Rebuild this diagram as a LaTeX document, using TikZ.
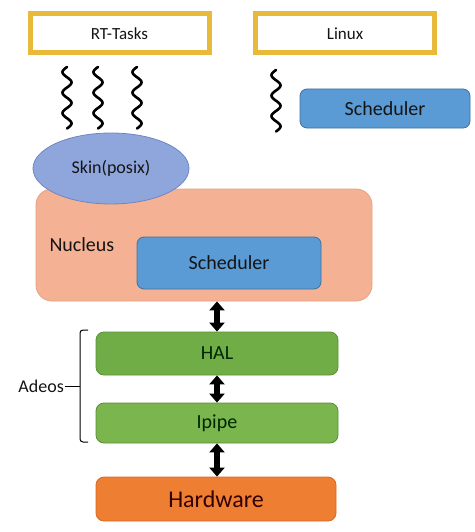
\documentclass[tikz,border=0pt]{standalone}
\usepackage{fontspec}
\setmainfont{Carlito}
\usetikzlibrary{shapes.geometric,arrows.meta,calc}
\definecolor{gold}{HTML}{E9B93A}
\definecolor{skinfill}{HTML}{8FA6DC}
\definecolor{skinline}{HTML}{6E86C4}
\definecolor{nucfill}{HTML}{F5B193}
\definecolor{nucline}{HTML}{E8A282}
\definecolor{schedfill}{HTML}{5B9BD5}
\definecolor{schedline}{HTML}{41719C}
\definecolor{halfill}{HTML}{70AD47}
\definecolor{halline}{HTML}{5A8F38}
\definecolor{ipfill}{HTML}{7BB54E}
\definecolor{hwfill}{HTML}{EE7E32}
\definecolor{hwline}{HTML}{D96A22}
\definecolor{txt}{HTML}{141414}
\tikzset{
  x=1pt, y=-1pt,
  goldbox/.style={draw=gold, line width=5pt, fill=white, minimum width=179pt, minimum height=39pt, font=\fontsize{17}{20}\selectfont, text=txt},
  schedbox/.style={draw=schedline, line width=0.8pt, fill=schedfill, rounded corners=7pt, font=\fontsize{20}{22}\selectfont, text=txt},
  greenbox/.style={draw=halline, line width=0.8pt, rounded corners=8pt, minimum width=242pt, font=\fontsize{20}{22}\selectfont, text=black!85!green},
  dblarrow/.style={line width=5.5pt, {Triangle[width=15pt,length=9pt]}-{Triangle[width=15pt,length=9pt]}},
  squig/.style={line width=2.6pt, line cap=round}
}
\newcommand{\squiggle}[3]{% x, ytop, periods
  \draw[squig] plot[domain=0:#3, samples=80, smooth] ({#1-4.5*sin(\x*360)}, {#2+\x*20.5});
}
\begin{document}
\begin{tikzpicture}
\useasboundingbox (0,0) rectangle (474,532);
% top boxes
\node[goldbox] (rt) at (119.5,33.5) {RT-Tasks};
\node[goldbox] (linux) at (345,33.5) {Linux};
% squiggles
\squiggle{67}{67}{3}
\squiggle{98}{67}{3}
\squiggle{137}{67}{3}
\squiggle{276}{70}{3}
% linux scheduler
\node[schedbox, minimum width=170pt, minimum height=39pt] (lsched) at (385,108.5) {Scheduler};
% nucleus
\node[draw=nucline, line width=0.8pt, fill=nucfill, rounded corners=16pt, minimum width=336pt, minimum height=112pt] (nucleus) at (204,245) {};
\node[anchor=west, font=\fontsize{20}{22}\selectfont, text=txt] (nuclabel) at (46,245) {Nucleus};
\node[schedbox, minimum width=184pt, minimum height=52pt] (nsched) at (229,263) {Scheduler};
% skin ellipse
\node[ellipse, draw=skinline, line width=0.8pt, fill=skinfill, minimum width=156pt, minimum height=71pt, font=\fontsize{18}{20}\selectfont, text=txt] (skin) at (111,168.5) {Skin(posix)};
% adeos layers
\node[greenbox, fill=halfill, minimum height=43pt] (hal) at (217,353.5) {HAL};
\node[greenbox, fill=ipfill, minimum height=40pt] (ipipe) at (217,423) {Ipipe};
\node[draw=hwline, line width=0.8pt, fill=hwfill, rounded corners=8pt, minimum width=240pt, minimum height=44pt, font=\fontsize{24}{26}\selectfont, text=black!80!red] (hw) at (216,499) {Hardware};
% arrows
\draw[dblarrow] (hal.north |- nucleus.south) -- (hal.north);
\draw[dblarrow] (hal.south) -- (ipipe.north);
\draw[dblarrow] (ipipe.south) -- (hal.south |- hw.north);
% brace
\coordinate (btop) at (88,330);
\coordinate (bbot) at (88,442);
\coordinate (bmid) at (80,386);
\node[anchor=east, font=\fontsize{18}{20}\selectfont, text=txt, inner sep=1pt] (adeos) at (65,386) {Adeos};
\draw[line width=1pt, rounded corners=3pt] (btop) -- (80,330) -- (bmid) -- (80,442) -- (bbot);
\draw[line width=1pt] (bmid) -- (adeos.east);
\end{tikzpicture}
\end{document}
